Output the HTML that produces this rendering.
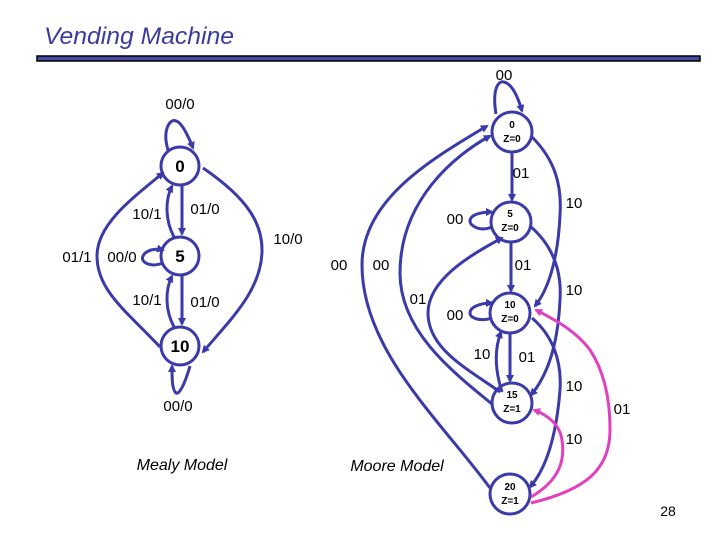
<!DOCTYPE html>
<html><head><meta charset="utf-8"><style>
html,body{margin:0;padding:0;background:#fff;}
svg{display:block;}
text{font-family:"Liberation Sans",sans-serif;}
</style></head><body>
<svg width="720" height="540" viewBox="0 0 720 540" xmlns="http://www.w3.org/2000/svg">
<defs>
<marker id="a" markerWidth="8" markerHeight="8" refX="6" refY="4" orient="auto" markerUnits="userSpaceOnUse"><path d="M0,0 L8,4 L0,8 z" fill="#3a3aa8"/></marker>
<marker id="p" markerWidth="8" markerHeight="8" refX="6" refY="4" orient="auto" markerUnits="userSpaceOnUse"><path d="M0,0 L8,4 L0,8 z" fill="#e040c0"/></marker>
</defs>
<text x="44" y="44" font-size="24" font-style="italic" fill="#3b3b9e" textLength="190" lengthAdjust="spacingAndGlyphs">Vending Machine</text>
<rect x="37" y="56" width="663" height="5" fill="#4a4aa8" stroke="#000" stroke-width="1.5"/>
<g fill="none" stroke="#3a3aa8" stroke-width="3">
<!-- Mealy -->
<circle cx="180" cy="166" r="19"/>
<circle cx="180" cy="256" r="19"/>
<circle cx="180" cy="346" r="19"/>
<path d="M168,150 C162,130 170,118 176,121 C182,122 190,140 193,148" marker-end="url(#a)"/>
<path d="M182,186 L182,234" marker-end="url(#a)"/>
<path d="M174,237 C165,220 165,200 172,186" marker-end="url(#a)"/>
<path d="M182,276 L182,324" marker-end="url(#a)"/>
<path d="M174,327 C165,310 165,290 172,276" marker-end="url(#a)"/>
<path d="M203,168 C250,200 262,225 262,250 C262,290 230,320 203,352" marker-end="url(#a)"/>
<path d="M160,347 C125,310 97,290 97,256 C97,225 130,200 163,173" marker-end="url(#a)"/>
<path d="M163,263 C150,268 140,262 143,256 C146,250 155,248 163,250" marker-end="url(#a)"/>
<path d="M190,366 C186,380 180,395 176,393 C172,390 172,378 172,366" marker-end="url(#a)"/>
<!-- Moore -->
<circle cx="512" cy="132" r="20"/>
<circle cx="511" cy="222" r="20"/>
<circle cx="510" cy="313" r="20"/>
<circle cx="512" cy="403" r="20"/>
<circle cx="510" cy="494" r="20"/>
<path d="M496,114 C492,90 498,80 504,82 C512,84 518,97 522,111" marker-end="url(#a)"/>
<path d="M512,152 L512,200" marker-end="url(#a)"/>
<path d="M511,242 L511,291" marker-end="url(#a)"/>
<path d="M510,333 L510,381" marker-end="url(#a)"/>
<path d="M532,137 C555,160 562,185 560,215 C558,260 548,290 535,306" marker-end="url(#a)"/>
<path d="M530,226 C552,245 562,270 560,300 C558,345 548,375 531,395" marker-end="url(#a)"/>
<path d="M532,318 C552,335 562,360 560,390 C556,440 545,470 530,487" marker-end="url(#a)"/>
<path d="M502,392 C495,370 494,350 501,332" marker-end="url(#a)"/>
<path d="M492,227 C480,232 470,226 470,221 C470,215 480,212 492,212" marker-end="url(#a)"/>
<path d="M492,318 C480,322 470,318 470,313 C470,307 480,303 492,303" marker-end="url(#a)"/>
<path d="M500,392 C470,370 428,350 428,313 C428,280 470,255 502,238" marker-end="url(#a)"/>
<path d="M492,404 C450,370 400,330 400,273 C400,200 455,155 490,136" marker-end="url(#a)"/>
<path d="M490,488 C440,420 362,350 362,265 C362,200 430,160 487,126" marker-end="url(#a)"/>
</g>
<g fill="none" stroke="#e040c0" stroke-width="3">
<path d="M531,497 C560,480 565,460 562,440 C560,425 548,415 534,410" marker-end="url(#p)"/>
<path d="M531,503 C585,490 610,470 610,430 C610,390 600,365 590,350 C575,330 555,320 536,310" marker-end="url(#p)"/>
</g>
<g font-size="15" fill="#000" text-anchor="middle">
<text x="180" y="109">00/0</text>
<text x="180" y="172" font-weight="bold" font-size="17">0</text>
<text x="180" y="262" font-weight="bold" font-size="17">5</text>
<text x="180" y="352" font-weight="bold" font-size="17">10</text>
<text x="205" y="214">01/0</text>
<text x="147" y="219">10/1</text>
<text x="288" y="244">10/0</text>
<text x="77" y="262">01/1</text>
<text x="122" y="262">00/0</text>
<text x="147" y="305">10/1</text>
<text x="205" y="307">01/0</text>
<text x="178" y="411">00/0</text>
<text x="182" y="470" font-size="16" font-style="italic">Mealy Model</text>
<text x="397" y="471" font-size="16" font-style="italic">Moore Model</text>
<text x="504" y="80">00</text>
<text x="521" y="178">01</text>
<text x="574" y="208">10</text>
<text x="455" y="224">00</text>
<text x="339" y="270">00</text>
<text x="381" y="270">00</text>
<text x="523" y="270">01</text>
<text x="574" y="295">10</text>
<text x="418" y="304">01</text>
<text x="455" y="320">00</text>
<text x="482" y="359">10</text>
<text x="527" y="362">01</text>
<text x="574" y="391">10</text>
<text x="622" y="414">01</text>
<text x="574" y="444">10</text>
<text x="668" y="516" font-size="14">28</text>
</g>
<g font-size="10" font-weight="bold" text-anchor="middle" fill="#000">
<text x="512" y="128">0</text><text x="512" y="142">Z=0</text>
<text x="510" y="217">5</text><text x="510" y="231">Z=0</text>
<text x="510" y="308">10</text><text x="510" y="322">Z=0</text>
<text x="512" y="398">15</text><text x="512" y="412">Z=1</text>
<text x="510" y="490">20</text><text x="510" y="504">Z=1</text>
</g>
</svg>
</body></html>
